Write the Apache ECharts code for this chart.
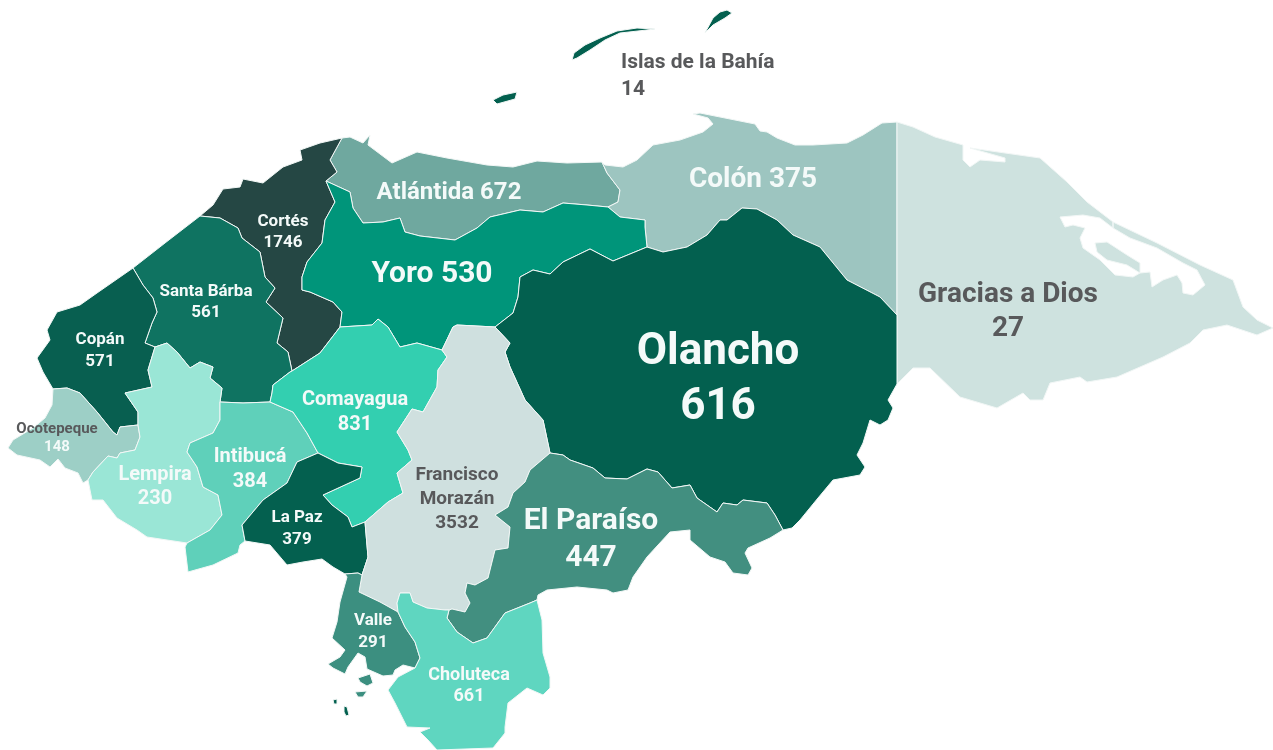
<!DOCTYPE html>
<html>
<head>
<meta charset="utf-8">
<style>
    html, body { margin: 0; padding: 0; background: #fff; }
    #main { width: 1273px; height: 750px; }
</style>
<script src="https://cdn.jsdelivr.net/npm/echarts@6/dist/echarts.min.js"></script>
</head>
<body>
<div id="main"></div>
<script>
/* data */
var departments = ['Islas de la Bahía', 'Atlántida', 'Colón', 'Gracias a Dios', 'Cortés', 'Yoro', 'Olancho', 'Santa Bárba', 'Copán', 'Ocotepeque', 'Lempira', 'Intibucá', 'Comayagua', 'La Paz', 'Francisco Morazán', 'El Paraíso', 'Valle', 'Choluteca'];
var population = [14, 672, 375, 27, 1746, 530, 616, 561, 571, 148, 230, 384, 831, 379, 3532, 447, 291, 661];

/* styles, same order as departments */
var fillColors = ['#03604f', '#6fa89f', '#9dc5c0', '#cee2df', '#254744', '#00957a', '#03604f', '#0f7361', '#085f50', '#9dcfc6', '#9ae6d6', '#5fd0ba', '#33cfb0', '#04604f', '#cfe0df', '#428f80', '#3c8f80', '#5fd6c0'];
var labelColors = ['#58595b', '#f4faf9', '#f4faf9', '#58595b', '#f4faf9', '#f4faf9', '#f4faf9', '#f4faf9', '#f4faf9', '#f4faf9', '#f4faf9', '#f4faf9', '#f4faf9', '#f4faf9', '#58595b', '#f4faf9', '#f4faf9', '#f4faf9'];
var labelSizes = [21, 24, 28, 28, 17, 30, 44, 17, 17, 15, 20, 20, 20, 17, 19, 30, 17, 18];
var labelLineHeights = [27, 27, 30, 34, 21, 34, 55, 21, 22, 18, 24, 25, 25, 22, 24, 37, 22, 21];
var labelCenters = [[700, 76], [449, 193], [753, 180], [1008, 312], [283, 232], [432, 274], [718, 380], [206, 302], [100, 351], [57, 438], [155, 487], [250, 469], [355, 412], [297, 529], [457, 499], [591, 540], [373, 632], [469, 686]];
var singleLine = ['Atlántida', 'Colón', 'Yoro'];

/* outline of the departments, shared borders traced once (page pixels) */
var B = [342, 138], A = [200, 216], E = [292, 371], F = [340, 327], C = [326, 181], G = [602, 162], H = [608, 207], I = [647, 247], J = [495, 327], K = [442, 350], L = [897, 122], M = [897, 315], N = [550, 453], P = [783, 530], Q = [897, 384], R = [449, 610], S = [398, 612], T = [362, 575], U = [365, 522], V = [318, 453], W = [270, 402], X = [345, 574], Y = [245, 541], Z = [187, 543], AA = [220, 402], AB = [155, 347], AC = [133, 268], AD = [53, 389], AE = [138, 425], AF = [88, 480], AG = [415, 668], AH = [537, 600];

var arcs = {
    cortesCoast: [B, [320, 143], [300, 150], [302, 160], [283, 167], [263, 183], [243, 179], [240, 187], [223, 189], [213, 205], A],
    cortesSB: [A, [220, 218], [238, 228], [242, 238], [260, 252], [265, 277], [275, 288], [266, 302], [283, 318], [277, 343], [288, 352], E],
    cortesCom: [E, [320, 353], F],
    cortesYoro: [F, [342, 312], [333, 302], [310, 292], [302, 290], [302, 277], [307, 262], [322, 243], [325, 220], [335, 202], C],
    cortesAtl: [C, [337, 172], [330, 160], B],
    atlCoast: [B, [350, 137], [363, 143], [370, 135], [368, 145], [392, 163], [417, 152], [447, 158], [487, 165], [513, 167], [537, 161], [567, 163], G],
    colAtl: [G, [607, 173], [620, 190], [618, 202], H],
    atlYoro: [H, [587, 205], [563, 203], [543, 212], [520, 210], [490, 217], [477, 228], [455, 240], [420, 236], [405, 232], [400, 218], [383, 222], [363, 223], [353, 208], [350, 192], C],
    yoroCol: [H, [620, 217], [645, 220], [645, 227], I],
    yoroOla: [I, [613, 261], [590, 249], [563, 262], [550, 274], [533, 270], [520, 277], [518, 297], [513, 313], J],
    yoroFm: [J, [457, 325], [453, 327], K],
    yoroCom: [K, [417, 343], [400, 347], [388, 327], [378, 319], [372, 325], F],
    colCoast: [G, [605, 165], [623, 167], [637, 160], [653, 145], [680, 140], [703, 132], [713, 124], [708, 118], [693, 114], [700, 113], [720, 117], [755, 124], [760, 131], [767, 132], [777, 138], [795, 145], [813, 145], [847, 143], [863, 135], [882, 123], L],
    colGra: [L, M],
    colOla: [M, [880, 297], [847, 280], [820, 247], [793, 235], [777, 220], [757, 209], [742, 208], [727, 220], [720, 220], [707, 235], [687, 247], [663, 252], I],
    olaFm: [J, [510, 343], [505, 352], [510, 367], [525, 400], [543, 420], N],
    olaEp: [N, [563, 455], [570, 460], [593, 468], [605, 478], [627, 479], [647, 469], [658, 472], [672, 488], [690, 485], [697, 498], [717, 512], [723, 503], [737, 505], [743, 500], [767, 503], [775, 515], P],
    olaCoast: [P, [792, 528], [800, 520], [818, 498], [833, 480], [860, 475], [865, 467], [857, 455], [863, 443], [870, 420], [880, 425], [888, 420], [893, 408], [888, 400], Q],
    olaGra: [Q, M],
    graCoastN: [L, [913, 127], [935, 137], [963, 145], [963, 160], [970, 167], [980, 160], [1005, 162], [1005, 158], [970, 148], [1040, 158], [1067, 182], [1087, 202], [1113, 222]],
    /* Caratasca lagoon, walked as a slit from the coast so that it stays open */
    lagoonKey: [[1113, 222], [1113, 228], [1100, 218], [1083, 215], [1060, 217], [1065, 227], [1073, 225], [1085, 228], [1080, 238], [1083, 248], [1100, 260], [1115, 275], [1133, 277], [1140, 273], [1150, 272], [1152, 287], [1163, 280], [1177, 275], [1182, 283], [1183, 293], [1193, 295], [1205, 285], [1197, 270], [1183, 263], [1157, 248], [1130, 238], [1113, 228], [1113, 222]],
    graCoastS: [[1113, 222], [1157, 243], [1200, 265], [1233, 280], [1243, 307], [1257, 320], [1273, 328], [1257, 335], [1227, 325], [1203, 330], [1190, 343], [1163, 357], [1140, 367], [1117, 377], [1087, 382], [1080, 377], [1050, 383], [1043, 400], [1030, 400], [1023, 393], [997, 408], [960, 397], [930, 368], [913, 368], Q],
    fmEp: [N, [530, 470], [525, 482], [513, 493], [508, 507], [495, 515], [510, 527], [508, 548], [495, 550], [488, 578], [475, 585], [467, 583], [465, 593], [470, 603], [465, 612], [452, 609], R],
    fmChol: [R, [445, 610], [427, 608], [413, 602], [410, 593], [400, 593], [397, 603], S],
    fmValle: [S, [380, 602], [359, 592], T],
    fmPaz: [T, [368, 557], U],
    fmCom: [U, [388, 502], [403, 493], [397, 473], [412, 460], [408, 450], [397, 432], [412, 409], [423, 412], [437, 387], [438, 370], [447, 357], K],
    comPaz: [U, [352, 527], [348, 517], [332, 505], [323, 495], [360, 478], [362, 467], [338, 463], V],
    comIntib: [V, [307, 433], [293, 412], W],
    comSB: [W, [272, 393], [273, 385], [290, 372], E],
    pazValle: [T, [358, 573], X],
    pazCoast: [X, [333, 567], [322, 559], [303, 562], [287, 565], [270, 545], Y],
    pazIntib: [Y, [242, 525], [263, 500], [287, 483], [297, 462], V],
    intibCoast: [Y, [240, 545], [238, 553], [213, 565], [188, 572], [185, 547], Z],
    lempIntib: [AA, [220, 420], [213, 433], [190, 443], [187, 452], [197, 467], [203, 487], [218, 495], [222, 515], [210, 530], Z],
    sbIntib: [AA, [243, 403], W],
    sbLemp: [AA, [222, 388], [210, 378], [213, 367], [200, 362], [190, 368], [177, 352], [167, 343], AB],
    sbCopan: [AB, [145, 343], [152, 323], [157, 312], [153, 298], [143, 285], AC],
    sbCoast: [AC, [165, 243], A],
    copanCoast: [AC, [97, 293], [80, 305], [57, 312], [47, 330], [50, 340], [37, 358], [43, 372], AD],
    copanOco: [AD, [67, 388], [80, 393], [97, 412], [113, 432], [117, 435], [120, 427], AE],
    copanLemp: [AE, [138, 412], [125, 393], [152, 387], [148, 370], AB],
    ocoCoast: [AD, [52, 405], [45, 418], [33, 428], [13, 440], [8, 448], [17, 455], [40, 460], [50, 467], [58, 459], [65, 468], [78, 473], [83, 483], AF],
    ocoLemp: [AF, [93, 472], [108, 456], [117, 458], [120, 453], [135, 450], [140, 437], AE],
    lempCoast: [AF, [92, 500], [103, 500], [117, 518], [137, 530], [147, 537], Z],
    valleChol: [S, [405, 627], [415, 642], [420, 658], AG],
    valleCoast: [AG, [403, 665], [395, 670], [393, 675], [383, 676], [367, 669], [365, 657], [358, 653], [348, 667], [345, 674], [333, 668], [328, 664], [340, 657], [345, 650], [332, 638], [337, 622], [340, 602], [347, 577], X],
    cholCoast: [AG, [398, 677], [388, 690], [395, 703], [407, 727], [430, 728], [420, 732], [428, 740], [437, 750], [493, 748], [505, 733], [505, 727], [508, 703], [527, 688], [543, 695], [550, 688], [550, 677], [543, 653], [542, 620], AH],
    epChol: [R, [447, 618], [457, 632], [473, 643], [487, 638], [505, 613], [530, 603], AH],
    epCoast: [AH, [538, 595], [547, 590], [577, 587], [607, 590], [613, 593], [628, 590], [633, 577], [647, 557], [658, 545], [670, 532], [690, 530], [690, 540], [710, 557], [725, 562], [733, 573], [748, 575], [752, 568], [745, 553], [748, 548], [770, 538], P]
};

/* a leading minus walks the arc backwards */
var rings = {
    'Atlántida': ['atlCoast', 'colAtl', 'atlYoro', 'cortesAtl'],
    'Colón': ['colCoast', 'colGra', 'colOla', '-yoroCol', '-colAtl'],
    'Gracias a Dios': ['graCoastN', 'lagoonKey', 'graCoastS', 'olaGra', '-colGra'],
    'Cortés': ['cortesCoast', 'cortesSB', 'cortesCom', 'cortesYoro', 'cortesAtl'],
    'Yoro': ['-atlYoro', 'yoroCol', 'yoroOla', 'yoroFm', 'yoroCom', 'cortesYoro'],
    'Olancho': ['yoroOla', 'olaFm', 'olaEp', 'olaCoast', 'olaGra', 'colOla'],
    'Santa Bárba': ['cortesSB', '-comSB', '-sbIntib', 'sbLemp', 'sbCopan', 'sbCoast'],
    'Copán': ['copanCoast', 'copanOco', 'copanLemp', 'sbCopan'],
    'Ocotepeque': ['ocoCoast', 'ocoLemp', '-copanOco'],
    'Lempira': ['-copanLemp', '-ocoLemp', 'lempCoast', '-lempIntib', 'sbLemp'],
    'Intibucá': ['-comIntib', '-pazIntib', 'intibCoast', '-lempIntib', 'sbIntib'],
    'Comayagua': ['cortesCom', '-yoroCom', '-fmCom', 'comPaz', 'comIntib', 'comSB'],
    'La Paz': ['-comPaz', '-fmPaz', 'pazValle', 'pazCoast', 'pazIntib'],
    'Francisco Morazán': ['-yoroFm', 'olaFm', 'fmEp', 'fmChol', 'fmValle', 'fmPaz', 'fmCom'],
    'El Paraíso': ['olaEp', '-epCoast', '-epChol', '-fmEp'],
    'Valle': ['valleChol', 'valleCoast', '-pazValle', '-fmValle'],
    'Choluteca': ['fmChol', 'valleChol', 'cholCoast', '-epChol']
};

/* pieces that are not made of shared borders */
var islands = {
    'Islas de la Bahía': [
        [[572, 60], [574, 53], [585, 45], [600, 38], [617, 31], [637, 28], [655, 29], [638, 31], [620, 33], [605, 40], [590, 50], [577, 58]],
        [[705, 33], [713, 18], [720, 12], [727, 10], [732, 13], [725, 18], [713, 25]],
        [[493, 100], [503, 95], [517, 92], [515, 99], [497, 104]],
        [[333, 700], [337, 699], [337, 704], [334, 704]],
        [[344, 706], [347, 707], [349, 715], [346, 716], [344, 712]]
    ],
    'Valle': [
        [[358, 678], [370, 674], [373, 683], [367, 686], [360, 682]],
        [[355, 692], [367, 691], [363, 697], [358, 697]]
    ],
    'Gracias a Dios': [
        [[1095, 243], [1107, 242], [1127, 255], [1140, 263], [1140, 273], [1127, 265], [1107, 260], [1097, 252]]
    ]
};

function flip(pt) {
    return [pt[0], -pt[1]];
}

function buildRing(names) {
    var out = [];
    names.forEach(function(n) {
        var back = n.charAt(0) == '-';
        var pts = arcs[back ? n.slice(1) : n].slice();
        if (back) pts.reverse();
        pts.slice(1).forEach(function(p) { out.push(flip(p)); });
    });
    return out;
}

var features = departments.map(function(name, i) {
    var polys = [];
    if (rings[name]) polys.push([buildRing(rings[name])]);
    (islands[name] || []).forEach(function(r) {
        polys.push([r.map(flip)]);
    });
    return {
        type: 'Feature',
        properties: { name: name, cp: flip(labelCenters[i]) },
        geometry: { type: 'MultiPolygon', coordinates: polys }
    };
});

echarts.registerMap('honduras', { type: 'FeatureCollection', features: features });

function labelFor(name, i) {
    var value = population[i];
    var label = {
        show: true,
        color: labelColors[i],
        fontFamily: 'Roboto',
        fontWeight: 700,
        fontSize: labelSizes[i],
        lineHeight: labelLineHeights[i]
    };
    if (singleLine.indexOf(name) >= 0) {
        label.formatter = name + ' ' + value;
    } else if (name == 'Ocotepeque') {
        /* only this one has two colours */
        label.formatter = '{n|' + name + '}\n{v|' + value + '}';
        label.rich = {
            n: { color: '#58595b', fontSize: labelSizes[i], fontWeight: 700, fontFamily: 'Roboto', lineHeight: 18 },
            v: { color: '#f4faf9', fontSize: labelSizes[i], fontWeight: 700, fontFamily: 'Roboto', lineHeight: 18 }
        };
    } else if (name == 'Islas de la Bahía') {
        label.formatter = '{n|' + name + '}\n{n|' + value + '}';
        label.rich = {
            n: { width: 158, align: 'left', color: labelColors[i], fontSize: labelSizes[i], fontWeight: 700, fontFamily: 'Roboto', lineHeight: 27 }
        };
    } else {
        label.formatter = name.replace('Francisco ', 'Francisco\n') + '\n' + value;
    }
    return label;
}

var myChart = echarts.init(document.getElementById('main'), null, { renderer: 'canvas' });
var option = {
    animation: false,
    backgroundColor: '#fff',
    series: [{
        type: 'map',
        map: 'honduras',
        aspectScale: 1,
        roam: false,
        silent: true,
        selectedMode: false,
        left: 8,
        top: 10,
        width: 1265,
        height: 740,
        itemStyle: { borderColor: '#f2f7f6', borderWidth: 1 },
        data: departments.map(function(name, i) {
            return {
                name: name,
                value: population[i],
                itemStyle: { areaColor: fillColors[i] },
                label: labelFor(name, i)
            };
        })
    }]
};
myChart.setOption(option);
</script>
</body>
</html>
